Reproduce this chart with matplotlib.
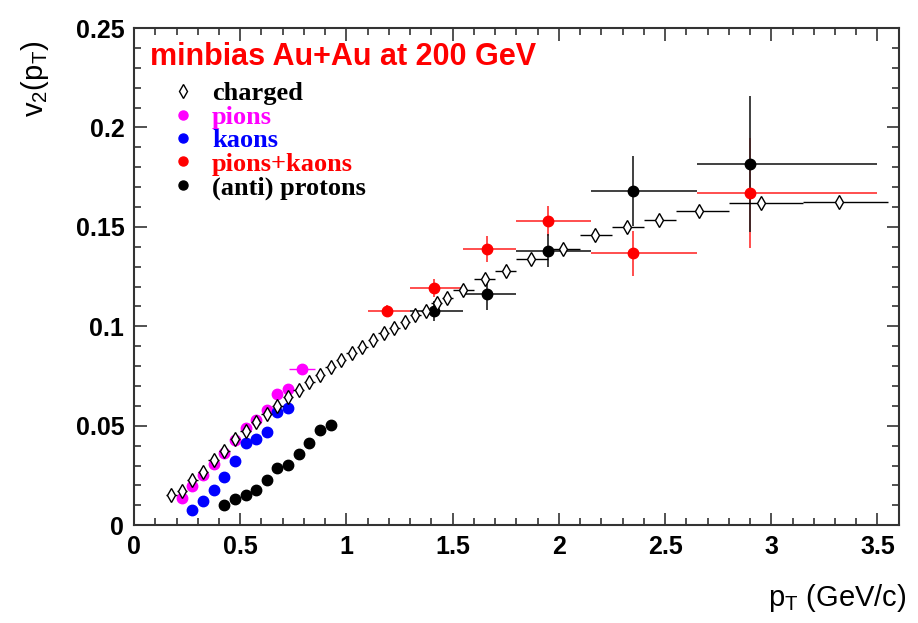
import matplotlib
matplotlib.use("Agg")
import matplotlib.pyplot as plt
from matplotlib.lines import Line2D
from matplotlib.ticker import MultipleLocator
import numpy as np

# charged hadrons (open diamonds)
ch_pt = [0.175, 0.225, 0.275, 0.325, 0.375, 0.425, 0.475, 0.525, 0.575, 0.625,
         0.675, 0.725, 0.775, 0.825, 0.875, 0.925, 0.975, 1.025, 1.075, 1.125,
         1.175, 1.225, 1.275, 1.325, 1.375, 1.425, 1.475,
         1.55, 1.65, 1.75, 1.87, 2.02, 2.17, 2.32, 2.47, 2.66, 2.95, 3.32]
ch_v2 = [0.0151, 0.0173, 0.0226, 0.0268, 0.0327, 0.0374, 0.0431, 0.0472, 0.0520, 0.0558,
         0.0600, 0.0645, 0.0680, 0.0720, 0.0755, 0.0793, 0.0830, 0.0864, 0.0897, 0.0930,
         0.0964, 0.0994, 0.1023, 0.1056, 0.1078, 0.1118, 0.1140,
         0.1185, 0.1240, 0.1280, 0.1340, 0.1390, 0.1459, 0.1500, 0.1534, 0.1580, 0.1618, 0.1625]
ch_lo = [0.15, 0.20, 0.25, 0.30, 0.35, 0.40, 0.45, 0.50, 0.55, 0.60,
         0.65, 0.70, 0.75, 0.80, 0.85, 0.90, 0.95, 1.00, 1.05, 1.10,
         1.15, 1.20, 1.25, 1.30, 1.35, 1.40, 1.45,
         1.50, 1.60, 1.70, 1.80, 1.95, 2.10, 2.25, 2.40, 2.55, 2.80, 3.15]
ch_hi = [0.20, 0.25, 0.30, 0.35, 0.40, 0.45, 0.50, 0.55, 0.60, 0.65,
         0.70, 0.75, 0.80, 0.85, 0.90, 0.95, 1.00, 1.05, 1.10, 1.15,
         1.20, 1.25, 1.30, 1.35, 1.40, 1.45, 1.50,
         1.60, 1.70, 1.80, 1.95, 2.10, 2.25, 2.40, 2.55, 2.80, 3.15, 3.55]

# pions
pi_pt = [0.225, 0.275, 0.325, 0.375, 0.425, 0.475, 0.525, 0.575, 0.625, 0.675, 0.725, 0.79]
pi_v2 = [0.0137, 0.0195, 0.0250, 0.0307, 0.0364, 0.0430, 0.0490, 0.0530, 0.0578, 0.0662, 0.0687, 0.0783]
pi_xerr = [0.02, 0.02, 0.02, 0.02, 0.02, 0.02, 0.02, 0.02, 0.02, 0.02, 0.02, 0.06]

# kaons
k_pt = [0.275, 0.325, 0.375, 0.425, 0.475, 0.525, 0.575, 0.625, 0.675, 0.725]
k_v2 = [0.0075, 0.0122, 0.0176, 0.0240, 0.0323, 0.0411, 0.0431, 0.0470, 0.0570, 0.0587]

# (anti) protons, low pt
p_pt = [0.425, 0.475, 0.525, 0.575, 0.625, 0.675, 0.725, 0.775, 0.825, 0.875, 0.925]
p_v2 = [0.0100, 0.0134, 0.0151, 0.0176, 0.0226, 0.0290, 0.0302, 0.0356, 0.0411, 0.0481, 0.0503]

# pions+kaons, high pt
pk_pt = [1.19, 1.41, 1.66, 1.95, 2.35, 2.90]
pk_v2 = [0.1076, 0.1194, 0.1388, 0.1530, 0.1367, 0.1672]
pk_err = [0.0030, 0.0046, 0.0064, 0.0074, 0.0113, 0.0277]
pk_lo = [1.10, 1.30, 1.55, 1.80, 2.15, 2.65]
pk_hi = [1.30, 1.55, 1.80, 2.15, 2.65, 3.50]

# (anti) protons, high pt
hp_pt = [1.41, 1.66, 1.95, 2.35, 2.90]
hp_v2 = [0.1076, 0.1165, 0.1380, 0.1680, 0.1816]
hp_err = [0.0050, 0.0084, 0.0084, 0.0174, 0.0340]
hp_lo = [1.30, 1.55, 1.80, 2.15, 2.65]
hp_hi = [1.55, 1.80, 2.15, 2.65, 3.50]

plt.rcParams['font.family'] = ['Liberation Sans', 'DejaVu Sans']

fig = plt.figure(figsize=(9.18, 6.23), dpi=100)
ax = fig.add_axes([0.146, 0.157, 0.833, 0.798])

def xerr_of(pt, lo, hi):
    pt = np.array(pt)
    return [pt - np.array(lo), np.array(hi) - pt]

ms = 7.5
ax.errorbar(pk_pt, pk_v2, yerr=pk_err, xerr=xerr_of(pk_pt, pk_lo, pk_hi), fmt='o',
            color='#ff0000', ecolor='#ff3030', ms=ms, elinewidth=1.2, capsize=0, zorder=3)
ax.errorbar(hp_pt, hp_v2, yerr=hp_err, xerr=xerr_of(hp_pt, hp_lo, hp_hi), fmt='o',
            color='black', ecolor='#202020', ms=ms, elinewidth=1.2, capsize=0, zorder=3)
ax.errorbar(ch_pt, ch_v2, xerr=xerr_of(ch_pt, ch_lo, ch_hi), yerr=0.0015, fmt='d',
            mfc='white', mec='black', mew=1.0, ecolor='black', ms=7,
            elinewidth=1.0, capsize=0, zorder=4)
ax.errorbar(pi_pt, pi_v2, xerr=pi_xerr, yerr=0.0012, fmt='o', color='#ff00ff',
            ms=ms, elinewidth=1.0, capsize=0, zorder=2)
ax.errorbar(k_pt, k_v2, yerr=0.0012, fmt='o', color='#0000ff',
            ms=ms, elinewidth=1.0, capsize=0, zorder=2)
ax.errorbar(p_pt, p_v2, yerr=0.0012, fmt='o', color='black',
            ms=ms, elinewidth=1.0, capsize=0, zorder=2)

ax.set_xlim(0, 3.6)
ax.set_ylim(0, 0.25)
ax.xaxis.set_major_locator(MultipleLocator(0.5))
ax.xaxis.set_minor_locator(MultipleLocator(0.1))
ax.yaxis.set_major_locator(MultipleLocator(0.05))
ax.yaxis.set_minor_locator(MultipleLocator(0.01))
ax.set_xticks([0, 0.5, 1, 1.5, 2, 2.5, 3, 3.5])
ax.set_xticklabels(['0', '0.5', '1', '1.5', '2', '2.5', '3', '3.5'])
ax.set_yticks([0, 0.05, 0.1, 0.15, 0.2, 0.25])
ax.set_yticklabels(['0', '0.05', '0.1', '0.15', '0.2', '0.25'])
ax.tick_params(which='both', direction='in', top=True, right=True, width=1.2, color='#333333')
ax.tick_params(which='major', length=9, labelsize=18, pad=7)
ax.tick_params(which='minor', length=5)
for lab in ax.get_xticklabels() + ax.get_yticklabels():
    lab.set_fontweight('bold')
for sp in ax.spines.values():
    sp.set_linewidth(1.5)
    sp.set_color('#333333')

ax.set_ylabel(r'$\mathregular{v_2(p_T)}$', fontsize=21, loc='top')
ax.yaxis.set_label_coords(-0.108, 0.975)
ax.set_xlabel(r'$\mathregular{p_T}$ (GeV/c)', fontsize=21, loc='right')
ax.xaxis.set_label_coords(1.01, -0.115)

ax.text(0.021, 0.942, 'minbias Au+Au at 200 GeV', transform=ax.transAxes, color='#ff0000',
        fontsize=22, fontweight='bold', va='center', ha='left')

handles = [
    Line2D([], [], ls='none', marker='d', mfc='white', mec='black', ms=7),
    Line2D([], [], ls='none', marker='o', color='#ff00ff', ms=6.5),
    Line2D([], [], ls='none', marker='o', color='#0000ff', ms=6.5),
    Line2D([], [], ls='none', marker='o', color='#ff0000', ms=6.5),
    Line2D([], [], ls='none', marker='o', color='black', ms=6.5),
]
labels = ['charged', 'pions', 'kaons', 'pions+kaons', '(anti) protons']
ax.legend(handles, labels, loc='upper left', bbox_to_anchor=(0.033, 0.913), frameon=False,
          prop={'family': 'Liberation Serif', 'weight': 'bold', 'size': 19},
          labelcolor=['black', '#ff00ff', '#0000ff', '#ff0000', 'black'],
          handlelength=1.0, handletextpad=0.6, labelspacing=0.0, borderaxespad=0)

fig.savefig('out.png', dpi=100)
